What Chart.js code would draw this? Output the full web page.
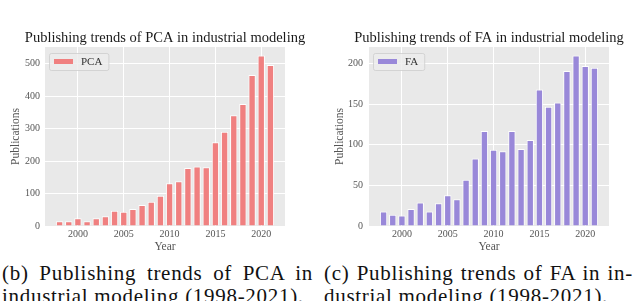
<!DOCTYPE html>
<html>
<head>
<meta charset="utf-8">
<script src="https://cdn.jsdelivr.net/npm/chart.js@4.4.0/dist/chart.umd.min.js"></script>
<style>
  html, body { margin: 0; padding: 0; background: #fff; }
  body { width: 640px; height: 301px; position: relative; overflow: hidden; }
  canvas { position: absolute; top: 0; }
  #pcaChart { left: 0; }
  #faChart { left: 320px; }
  .caption {
    position: absolute;
    top: 262px;
    font-family: "Liberation Serif", "DejaVu Serif", serif;
    font-size: 21px;
    line-height: 23px;
    letter-spacing: 0.7px;
    color: #111;
    white-space: nowrap;
  }
  .caption .l1 { text-align: justify; text-align-last: justify; white-space: normal; }
  #capB { left: 2px; width: 311px; }
  #capC { left: 324px; width: 309px; }
</style>
</head>
<body>
<canvas id="pcaChart" width="320" height="260"></canvas>
<canvas id="faChart" width="320" height="260"></canvas>
<div class="caption" id="capB"><div class="l1">(b) Publishing trends of PCA in</div><div>industrial modeling (1998-2021).</div></div>
<div class="caption" id="capC"><div class="l1">(c) Publishing trends of FA in in-</div><div>dustrial modeling (1998-2021).</div></div>

<script>
// publication counts per year
const years = [1998, 1999, 2000, 2001, 2002, 2003, 2004, 2005, 2006, 2007, 2008, 2009,
               2010, 2011, 2012, 2013, 2014, 2015, 2016, 2017, 2018, 2019, 2020, 2021];
const pcaCounts = [15, 15, 24, 15, 24, 30, 47, 44, 52, 65, 75, 93,
                   132, 138, 179, 183, 181, 258, 290, 341, 376, 465, 525, 496];
const faCounts = [18, 14, 13, 21, 29, 18, 28, 38, 33, 57, 83, 117,
                  94, 92, 117, 95, 106, 168, 147, 152, 191, 210, 197, 195];

const yearTicks = [2000, 2005, 2010, 2015, 2020];
const pcaTicks = [0, 100, 200, 300, 400, 500];
const faTicks = [0, 50, 100, 150, 200];

const SERIF = "'Liberation Serif', 'Times New Roman', serif";
const PANEL_BG = '#E9E9E9';
const TICK_COLOR = '#555555';

// grey panel behind the bars
const panelBackground = {
  id: 'panelBackground',
  beforeDraw(chart) {
    const { ctx, chartArea: a } = chart;
    ctx.save();
    ctx.fillStyle = PANEL_BG;
    ctx.fillRect(a.left, a.top, a.right - a.left, a.bottom - a.top);
    ctx.restore();
  }
};

// title centred over the plot area (the built-in one squeezes long text)
const panelTitle = {
  id: 'panelTitle',
  afterDraw(chart, args, opts) {
    const { ctx, chartArea: a } = chart;
    ctx.save();
    ctx.font = '14.5px ' + SERIF;
    ctx.fillStyle = '#1a1a1a';
    ctx.textAlign = 'center';
    ctx.textBaseline = 'alphabetic';
    ctx.fillText(opts.text, (a.left + a.right) / 2, a.top - 5);
    ctx.restore();
  }
};

// matplotlib-like legend box sitting inside the plot, top left
const insideLegend = {
  id: 'insideLegend',
  afterDatasetsDraw(chart) {
    const { ctx, chartArea: a } = chart;
    const ds = chart.data.datasets[0];
    const x0 = a.left + 4, y0 = a.top + 6, h = 17;
    ctx.save();
    ctx.font = '11px ' + SERIF;
    const sx = x0 + 5, sw = 19;
    const tx = sx + sw + 8;
    const tw = ctx.measureText(ds.label).width;
    const w = tx + tw + 6 - x0;
    ctx.beginPath();
    ctx.roundRect(x0 + 0.5, y0 + 0.5, w, h, 2);
    ctx.fillStyle = 'rgba(236,236,236,0.8)';
    ctx.fill();
    ctx.strokeStyle = 'rgba(205,205,205,0.8)';
    ctx.lineWidth = 1;
    ctx.stroke();
    ctx.fillStyle = ds.backgroundColor;
    ctx.fillRect(sx, y0 + h / 2 - 2.5, sw, 5);
    ctx.fillStyle = '#333';
    ctx.textBaseline = 'middle';
    ctx.fillText(ds.label, tx, y0 + h / 2 + 1);
    ctx.restore();
  }
};

function makeChart(canvasId, cfg) {
  const ctx = document.getElementById(canvasId).getContext('2d');
  const points = years.map((yr, i) => ({ x: yr, y: cfg.counts[i] }));
  // matplotlib default 5% margins around the bars
  const span = (years[years.length - 1] + 0.4) - (years[0] - 0.4);
  const xMin = years[0] - 0.4 - 0.05 * span;
  const xMax = years[years.length - 1] + 0.4 + 0.05 * span;
  const yMax = Math.max(...cfg.counts) * 1.05;

  return new Chart(ctx, {
    type: 'bar',
    data: {
      datasets: [{
        label: cfg.label,
        data: points,
        backgroundColor: cfg.color,
        borderColor: 'rgba(255,255,255,0.95)',
        borderWidth: 1,
        borderSkipped: 'start',
        categoryPercentage: 1.0,
        barPercentage: 0.8
      }]
    },
    options: {
      responsive: false,
      animation: false,
      devicePixelRatio: 1,
      layout: { padding: { left: 0, right: cfg.padRight, top: 47, bottom: 6 } },
      scales: {
        x: {
          type: 'linear',
          offset: false,
          min: xMin,
          max: xMax,
          afterBuildTicks: (scale) => { scale.ticks = yearTicks.map(v => ({ value: v })); },
          afterFit: (scale) => { scale.height = 28; },
          grid: { color: '#ffffff', lineWidth: 1, drawTicks: false, offset: false },
          border: { display: false },
          ticks: {
            padding: 2,
            color: TICK_COLOR,
            font: { family: SERIF, size: 10 },
            callback: (v) => String(v)
          },
          title: {
            display: true,
            text: 'Year',
            color: TICK_COLOR,
            font: { family: SERIF, size: 11.5 },
            padding: { top: 0, bottom: 0 }
          }
        },
        y: {
          min: 0,
          max: yMax,
          afterBuildTicks: (scale) => { scale.ticks = cfg.ticks.map(v => ({ value: v })); },
          afterFit: (scale) => { scale.width = cfg.axisWidth; },
          grid: { color: '#ffffff', lineWidth: 1, drawTicks: false },
          border: { display: false },
          ticks: {
            padding: cfg.tickPad,
            color: TICK_COLOR,
            font: { family: SERIF, size: 10 }
          },
          title: {
            display: true,
            text: 'Publications',
            color: TICK_COLOR,
            font: { family: SERIF, size: 11.5 },
            padding: { top: cfg.titlePad, bottom: 0 }
          }
        }
      },
      plugins: {
        legend: { display: false },
        tooltip: { enabled: false },
        title: { display: false },
        panelTitle: { text: cfg.title }
      }
    },
    plugins: [panelBackground, insideLegend, panelTitle]
  });
}

makeChart('pcaChart', {
  label: 'PCA',
  counts: pcaCounts,
  ticks: pcaTicks,
  color: '#F08080',
  title: 'Publishing trends of PCA in industrial modeling',
  axisWidth: 45,
  tickPad: 5,
  titlePad: 9,
  padRight: 35
});

makeChart('faChart', {
  label: 'FA',
  counts: faCounts,
  ticks: faTicks,
  color: '#9988D9',
  title: 'Publishing trends of FA in industrial modeling',
  axisWidth: 49,
  tickPad: 6,
  titlePad: 13,
  padRight: 31
});
</script>
</body>
</html>
